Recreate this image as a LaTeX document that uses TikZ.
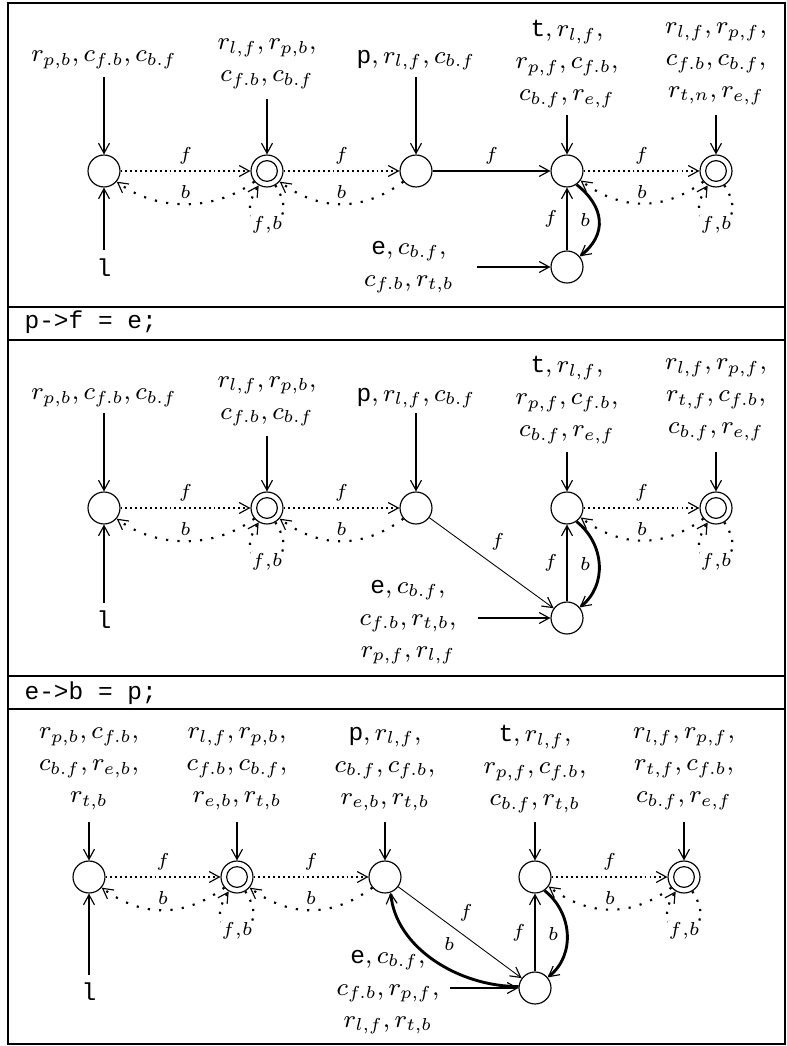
\RequirePackage{fix-cm}
\documentclass[tikz,border=0pt]{standalone}
\usepackage{fontspec}
\usetikzlibrary{arrows.meta,calc}
\newfontfamily\codefont{Liberation Mono}
\newcommand{\cv}[1]{\mbox{\fontsize{8.5}{10}\selectfont\codefont #1}}
\tikzset{
  st/.style={circle,draw,line width=0.4pt,minimum size=11.1pt,inner sep=0pt},
  acc/.style={st,path picture={\draw[line width=0.4pt] (path picture bounding box.center) circle (3.6pt);}},
  tip/.style={-{Straight Barb[length=3.5pt,width=3.8pt,line width=0.4pt]}},
  solidarr/.style={line width=0.55pt,tip},
  thickarr/.style={line width=0.9pt,tip},
  thinarr/.style={line width=0.3pt,tip},
  boldcurve/.style={line width=1pt,tip},
  dotstraight/.style={line width=0.65pt,dash pattern=on 0.65pt off 1.05pt,tip},
  dotcurve/.style={line width=0.75pt,dash pattern=on 0.75pt off 3.2pt,tip},
  loopcurve/.style={line width=0.75pt,dash pattern=on 0.75pt off 2.6pt,tip},
  lab/.style={font=\fontsize{8.6}{11.1}\selectfont,align=center,inner sep=0pt},
  el/.style={font=\fontsize{6.5}{7}\selectfont,inner sep=1pt},
  looplab/.style={font=\fontsize{6.5}{7}\selectfont,inner sep=0.3pt,fill=white},
  code/.style={font=\fontsize{8.5}{10}\selectfont\codefont,anchor=base west,inner sep=0pt},
  frame/.style={line width=0.8pt},
}
\begin{document}
\begin{tikzpicture}[x=0.3472pt,y=-0.3472pt]
\useasboundingbox (0,0) rectangle (787,1046);
% frame
\draw[frame] (8,3) rectangle (785,1044);
\draw[frame] (8,307) -- (785,307);
\draw[frame] (8,340) -- (785,340);
\draw[frame] (8,676) -- (785,676);
\draw[frame] (8,709) -- (785,709);
\node[code] (code1) at (24,329) {p->f = e;};
\node[code] (code2) at (24,699) {e->b = p;};

% ---------------- Panel 1 ----------------
\node[st]  (A1) at (104,171) {};
\node[acc] (B1) at (267,171) {};
\node[st]  (C1) at (416,171) {};
\node[st]  (D1) at (567,171) {};
\node[acc] (E1) at (716,171) {};
\node[st]  (F1) at (567,267) {};

\node[lab] (LA1) at (104,60) {$r_{p,b}, c_{f.b}, c_{b.f}$};
\node[lab] (LB1) at (267,64) {$r_{l,f}, r_{p,b},$\\$c_{f.b}, c_{b.f}$};
\node[lab] (LC1) at (416,60) {$\cv{p}, r_{l,f}, c_{b.f}$};
\node[lab] (LD1) at (567,64) {$\cv{t}, r_{l,f},$\\$r_{p,f}, c_{f.b},$\\$c_{b.f}, r_{e,f}$};
\node[lab] (LE1) at (716,64) {$r_{l,f}, r_{p,f},$\\$c_{f.b}, c_{b.f},$\\$r_{t,n}, r_{e,f}$};
\node[lab] (LL1) at (104,268) {\cv{l}};
\node[lab] (LF1) at (409,267) {$\cv{e}, c_{b.f},$\\$c_{f.b}, r_{t,b}$};

\coordinate (sA1) at (104,77);
\coordinate (sB1) at (267,99);
\coordinate (sC1) at (416,77);
\coordinate (sD1) at (567,115);
\coordinate (sE1) at (716,115);
\coordinate (sL1) at (104,250);
\coordinate (sF1) at (477,267);

\draw[solidarr] (sA1) -- (A1);
\draw[thickarr] (sB1) -- (B1);
\draw[solidarr] (sC1) -- (C1);
\draw[solidarr] (sD1) -- (D1);
\draw[solidarr] (sE1) -- (E1);
\draw[solidarr] (sL1) -- (A1);
\draw[solidarr] (sF1) -- (F1);

\draw[dotstraight] (A1) -- (B1) node[el,midway,above=1pt] {$f$};
\draw[dotcurve] (B1.220) .. controls +(-40,30) and +(40,30) .. (A1.-40) node[el,midway,above=0.5pt] {$b$};
\draw[loopcurve] (B1.-60) .. controls +(34,52) and +(-34,52) .. (B1.-120) node[looplab,midway] {$f{,}b$};
\draw[dotstraight] (B1) -- (C1) node[el,midway,above=1pt] {$f$};
\draw[dotcurve] (C1.220) .. controls +(-40,30) and +(40,30) .. (B1.-40) node[el,midway,above=0.5pt] {$b$};
\draw[solidarr] (C1) -- (D1) node[el,midway,above=1pt] {$f$};
\draw[dotstraight] (D1) -- (E1) node[el,midway,above=1pt] {$f$};
\draw[dotcurve] (E1.220) .. controls +(-40,30) and +(40,30) .. (D1.-35) node[el,midway,above=0.5pt] {$b$};
\draw[loopcurve] (E1.-60) .. controls +(34,52) and +(-34,52) .. (E1.-120) node[looplab,midway] {$f{,}b$};
\draw[solidarr] (F1) -- (D1) node[el,midway,left=2pt] {$f$};
\draw[boldcurve] (D1.-55) .. controls +(28,22) and +(28,-22) .. (F1.40) node[el,midway,left=1.5pt] {$b$};

% ---------------- Panel 2 ----------------
\node[st]  (A2) at (104,508) {};
\node[acc] (B2) at (267,508) {};
\node[st]  (C2) at (416,508) {};
\node[st]  (D2) at (567,508) {};
\node[acc] (E2) at (716,508) {};
\node[st]  (F2) at (567,618) {};

\node[lab] (LA2) at (104,398) {$r_{p,b}, c_{f.b}, c_{b.f}$};
\node[lab] (LB2) at (267,401.5) {$r_{l,f}, r_{p,b},$\\$c_{f.b}, c_{b.f}$};
\node[lab] (LC2) at (416,398) {$\cv{p}, r_{l,f}, c_{b.f}$};
\node[lab] (LD2) at (567,400) {$\cv{t}, r_{l,f},$\\$r_{p,f}, c_{f.b},$\\$c_{b.f}, r_{e,f}$};
\node[lab] (LE2) at (716,400) {$r_{l,f}, r_{p,f},$\\$r_{t,f}, c_{f.b},$\\$c_{b.f}, r_{e,f}$};
\node[lab] (LL2) at (104,620) {\cv{l}};
\node[lab] (LF2) at (408,622) {$\cv{e}, c_{b.f},$\\$c_{f.b}, r_{t,b},$\\$r_{p,f}, r_{l,f}$};

\coordinate (sA2) at (104,413);
\coordinate (sB2) at (267,436);
\coordinate (sC2) at (416,413);
\coordinate (sD2) at (567,452);
\coordinate (sE2) at (716,452);
\coordinate (sL2) at (104,603);
\coordinate (sF2) at (478,618);

\draw[solidarr] (sA2) -- (A2);
\draw[thickarr] (sB2) -- (B2);
\draw[solidarr] (sC2) -- (C2);
\draw[solidarr] (sD2) -- (D2);
\draw[solidarr] (sE2) -- (E2);
\draw[solidarr] (sL2) -- (A2);
\draw[solidarr] (sF2) -- (F2);

\draw[dotstraight] (A2) -- (B2) node[el,midway,above=1pt] {$f$};
\draw[dotcurve] (B2.220) .. controls +(-40,30) and +(40,30) .. (A2.-40) node[el,midway,above=0.5pt] {$b$};
\draw[loopcurve] (B2.-60) .. controls +(34,52) and +(-34,52) .. (B2.-120) node[looplab,midway] {$f{,}b$};
\draw[dotstraight] (B2) -- (C2) node[el,midway,above=1pt] {$f$};
\draw[dotcurve] (C2.220) .. controls +(-40,30) and +(40,30) .. (B2.-40) node[el,midway,above=0.5pt] {$b$};
\draw[thinarr] (C2) -- (F2) node[el,pos=0.55,above=5pt] {$f$};
\draw[dotstraight] (D2) -- (E2) node[el,midway,above=1pt] {$f$};
\draw[dotcurve] (E2.220) .. controls +(-40,30) and +(40,30) .. (D2.-35) node[el,midway,above=0.5pt] {$b$};
\draw[loopcurve] (E2.-60) .. controls +(34,52) and +(-34,52) .. (E2.-120) node[looplab,midway] {$f{,}b$};
\draw[solidarr] (F2) -- (D2) node[el,midway,left=2pt] {$f$};
\draw[boldcurve] (D2.-55) .. controls +(28,22) and +(28,-22) .. (F2.40) node[el,midway,left=1.5pt] {$b$};

% ---------------- Panel 3 ----------------
\node[st]  (A3) at (89,877) {};
\node[acc] (B3) at (237,877) {};
\node[st]  (C3) at (385,877) {};
\node[st]  (D3) at (535,877) {};
\node[acc] (E3) at (684,877) {};
\node[st]  (F3) at (535,988) {};

\node[lab] (LA3) at (89,769) {$r_{p,b}, c_{f.b},$\\$c_{b.f}, r_{e,b},$\\$r_{t,b}$};
\node[lab] (LB3) at (237,769) {$r_{l,f}, r_{p,b},$\\$c_{f.b}, c_{b.f},$\\$r_{e,b}, r_{t,b}$};
\node[lab] (LC3) at (385,769) {$\cv{p}, r_{l,f},$\\$c_{b.f}, c_{f.b},$\\$r_{e,b}, r_{t,b}$};
\node[lab] (LD3) at (535,769) {$\cv{t}, r_{l,f},$\\$r_{p,f}, c_{f.b},$\\$c_{b.f}, r_{t,b}$};
\node[lab] (LE3) at (684,769) {$r_{l,f}, r_{p,f},$\\$r_{t,f}, c_{f.b},$\\$c_{b.f}, r_{e,f}$};
\node[lab] (LL3) at (89,992) {\cv{l}};
\node[lab] (LF3) at (388,992) {$\cv{e}, c_{b.f},$\\$c_{f.b}, r_{p,f},$\\$r_{l,f}, r_{t,b}$};

\coordinate (sA3) at (89,822);
\coordinate (sB3) at (237,822);
\coordinate (sC3) at (385,822);
\coordinate (sD3) at (535,822);
\coordinate (sE3) at (684,822);
\coordinate (sL3) at (89,975);
\coordinate (sF3) at (450,988);

\draw[solidarr] (sA3) -- (A3);
\draw[solidarr] (sB3) -- (B3);
\draw[solidarr] (sC3) -- (C3);
\draw[solidarr] (sD3) -- (D3);
\draw[solidarr] (sE3) -- (E3);
\draw[solidarr] (sL3) -- (A3);
\draw[thickarr] (sF3) -- (F3);

\draw[dotstraight] (A3) -- (B3) node[el,midway,above=1pt] {$f$};
\draw[dotcurve] (B3.220) .. controls +(-40,30) and +(40,30) .. (A3.-40) node[el,midway,above=0.5pt] {$b$};
\draw[loopcurve] (B3.-60) .. controls +(34,52) and +(-34,52) .. (B3.-120) node[looplab,midway] {$f{,}b$};
\draw[dotstraight] (B3) -- (C3) node[el,midway,above=1pt] {$f$};
\draw[dotcurve] (C3.220) .. controls +(-40,30) and +(40,30) .. (B3.-40) node[el,midway,above=0.5pt] {$b$};
\draw[thinarr] (C3) -- (F3) node[el,pos=0.55,above=4.5pt] {$f$};
\draw[boldcurve] (F3.175) .. controls +(-60,0) and +(5,55) .. (C3.-70) node[el,midway,above right=2pt] {$b$};
\draw[dotstraight] (D3) -- (E3) node[el,midway,above=1pt] {$f$};
\draw[dotcurve] (E3.220) .. controls +(-40,30) and +(40,30) .. (D3.-35) node[el,midway,above=0.5pt] {$b$};
\draw[loopcurve] (E3.-60) .. controls +(34,52) and +(-34,52) .. (E3.-120) node[looplab,midway] {$f{,}b$};
\draw[solidarr] (F3) -- (D3) node[el,midway,left=2pt] {$f$};
\draw[boldcurve] (D3.-55) .. controls +(28,22) and +(28,-22) .. (F3.40) node[el,midway,left=1.5pt] {$b$};
\end{tikzpicture}
\end{document}
